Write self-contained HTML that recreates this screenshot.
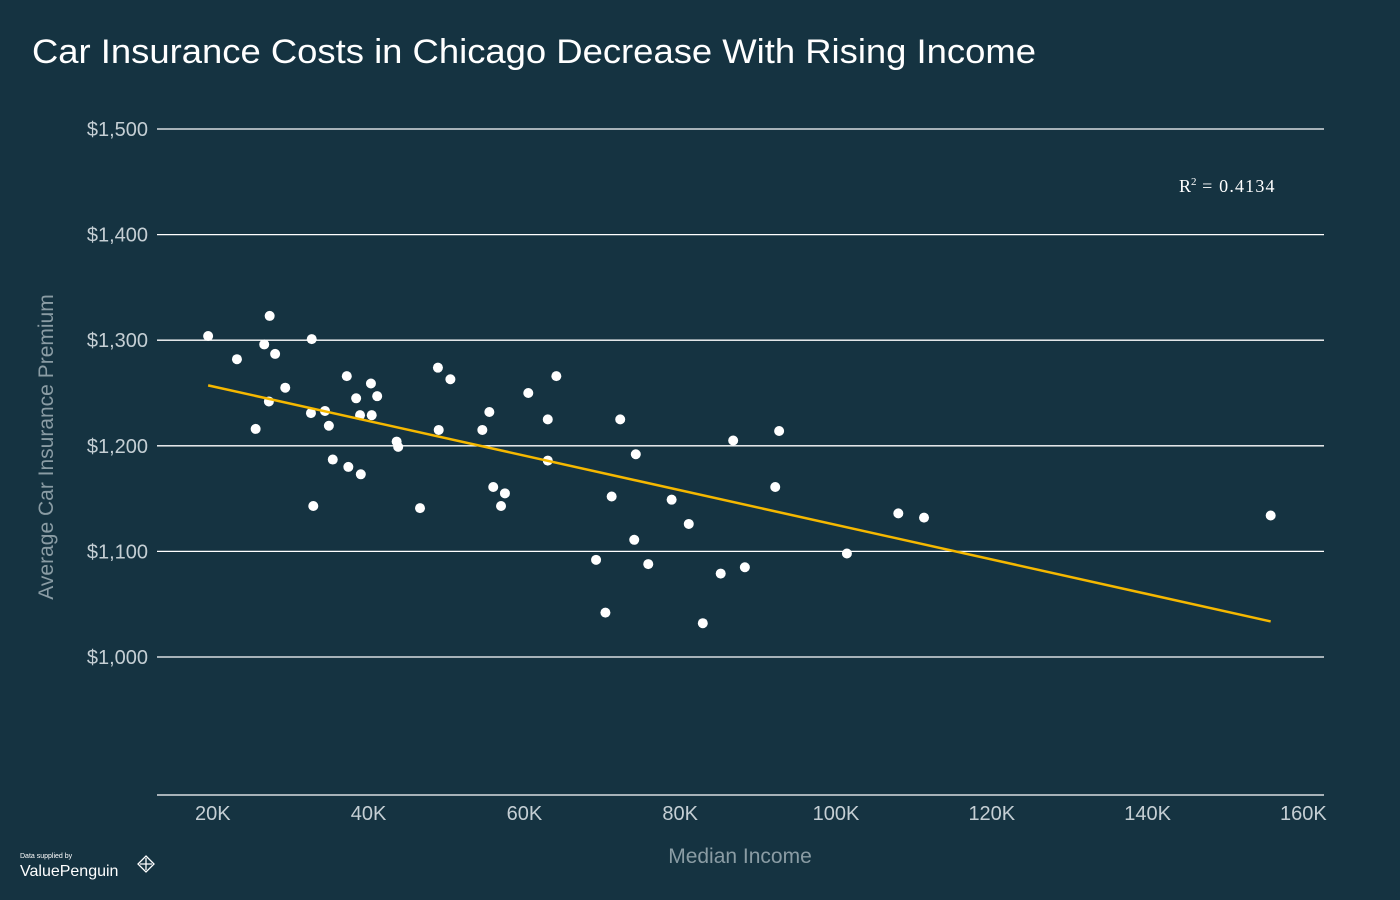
<!DOCTYPE html>
<html><head><meta charset="utf-8"><style>
body{margin:0;background:#153341;}
svg{display:block;font-family:"Liberation Sans",sans-serif;}
</style></head><body>
<svg id="c" width="1400" height="900">
<rect width="1400" height="900" fill="#153341"/>
<text x="32" y="63" fill="#ffffff" font-size="34" textLength="1004" lengthAdjust="spacingAndGlyphs">Car Insurance Costs in Chicago Decrease With Rising Income</text>
<g id="grid"></g><g id="pts"></g>
<text x="1179" y="192" fill="#ffffff" font-size="18" font-family="Liberation Serif, serif">R<tspan dy="-7" font-size="11">2</tspan><tspan dy="7" textLength="78"> = 0.4134</tspan></text>
<text x="740" y="863" fill="#8a9ca4" font-size="21" text-anchor="middle">Median Income</text>
<text transform="translate(53,447) rotate(-90)" fill="#8a9ca4" font-size="21" text-anchor="middle">Average Car Insurance Premium</text>
<g><text x="20" y="858" fill="#fff" font-size="7">Data supplied by</text><text x="20" y="876" fill="#fff" font-size="16">ValuePenguin</text><path d="M146 856 l8 8 l-8 8 l-8 -8z M140 864 h12 M146 858 v12" stroke="#fff" fill="none" stroke-width="1.3"/></g>
</svg>
<script>
const incomesK=[19.4,23.1,27.3,26.6,28.0,25.5,27.2,29.3,32.6,32.7,32.9,34.4,34.9,35.4,37.2,37.4,38.4,38.9,39.0,40.3,40.4,41.1,43.6,43.8,46.6,48.9,49.0,50.5,54.6,55.5,56.0,57.0,57.5,60.5,63.0,63.0,64.1,69.2,70.4,71.2,72.3,74.3,74.1,75.9,78.9,81.1,82.9,85.2,86.8,88.3,92.2,92.7,101.4,108.0,111.3,155.8];
const premiums=[1304,1282,1323,1296,1287,1216,1242,1255,1231,1301,1143,1233,1219,1187,1266,1180,1245,1229,1173,1259,1229,1247,1204,1199,1141,1274,1215,1263,1215,1232,1161,1143,1155,1250,1225,1186,1266,1092,1042,1152,1225,1192,1111,1088,1149,1126,1032,1079,1205,1085,1161,1214,1098,1136,1132,1134];
const yTicks=[1000,1100,1200,1300,1400,1500];
const yTickLabels=["$1,000","$1,100","$1,200","$1,300","$1,400","$1,500"];
const xTicks=[20,40,60,80,100,120,140,160];
const xTickLabels=["20K","40K","60K","80K","100K","120K","140K","160K"];
const NS="http://www.w3.org/2000/svg";
const X=v=>57+v*7.79;
const Y=v=>129+(1500-v)*1.056;
function mk(t,a,p){const e=document.createElementNS(NS,t);for(const k in a)e.setAttribute(k,a[k]);p.appendChild(e);return e;}
const g=document.getElementById('grid'),pg=document.getElementById('pts');
yTicks.forEach((v,i)=>{
 const l=mk('line',{x1:157,x2:1324,y1:Y(v),y2:Y(v),stroke:'#ffffff','stroke-width':1.3},g);
 
 
 const t=mk('text',{x:148,y:Y(v)+7,fill:'#c5cfd4','font-size':20,'text-anchor':'end'},g);
 t.textContent=yTickLabels[i];
 
 
});
const ax=mk('line',{x1:157,x2:1324,y1:795,y2:795,stroke:'#ffffff','stroke-width':1.3},g);


xTicks.forEach((v,i)=>{
 const t=mk('text',{x:X(v),y:820,fill:'#c5cfd4','font-size':20,'text-anchor':'middle'},g);
 t.textContent=xTickLabels[i];
 
 
});
const n=incomesK.length;let sx=0,sy=0,sxx=0,sxy=0;
for(let i=0;i<n;i++){sx+=incomesK[i];sy+=premiums[i];sxx+=incomesK[i]**2;sxy+=incomesK[i]*premiums[i];}
const b=(n*sxy-sx*sy)/(n*sxx-sx*sx),a=(sy-b*sx)/n;
const xmin=Math.min(...incomesK),xmax=Math.max(...incomesK);
incomesK.forEach((v,i)=>{
 const c=mk('circle',{cx:X(v),cy:Y(premiums[i]),r:5,fill:'#ffffff'},pg);
 
 
});
const tl=mk('line',{x1:X(xmin),y1:Y(a+b*xmin),x2:X(xmax),y2:Y(a+b*xmax),stroke:'#f5b800','stroke-width':2.5},pg);


</script>
</body></html>
